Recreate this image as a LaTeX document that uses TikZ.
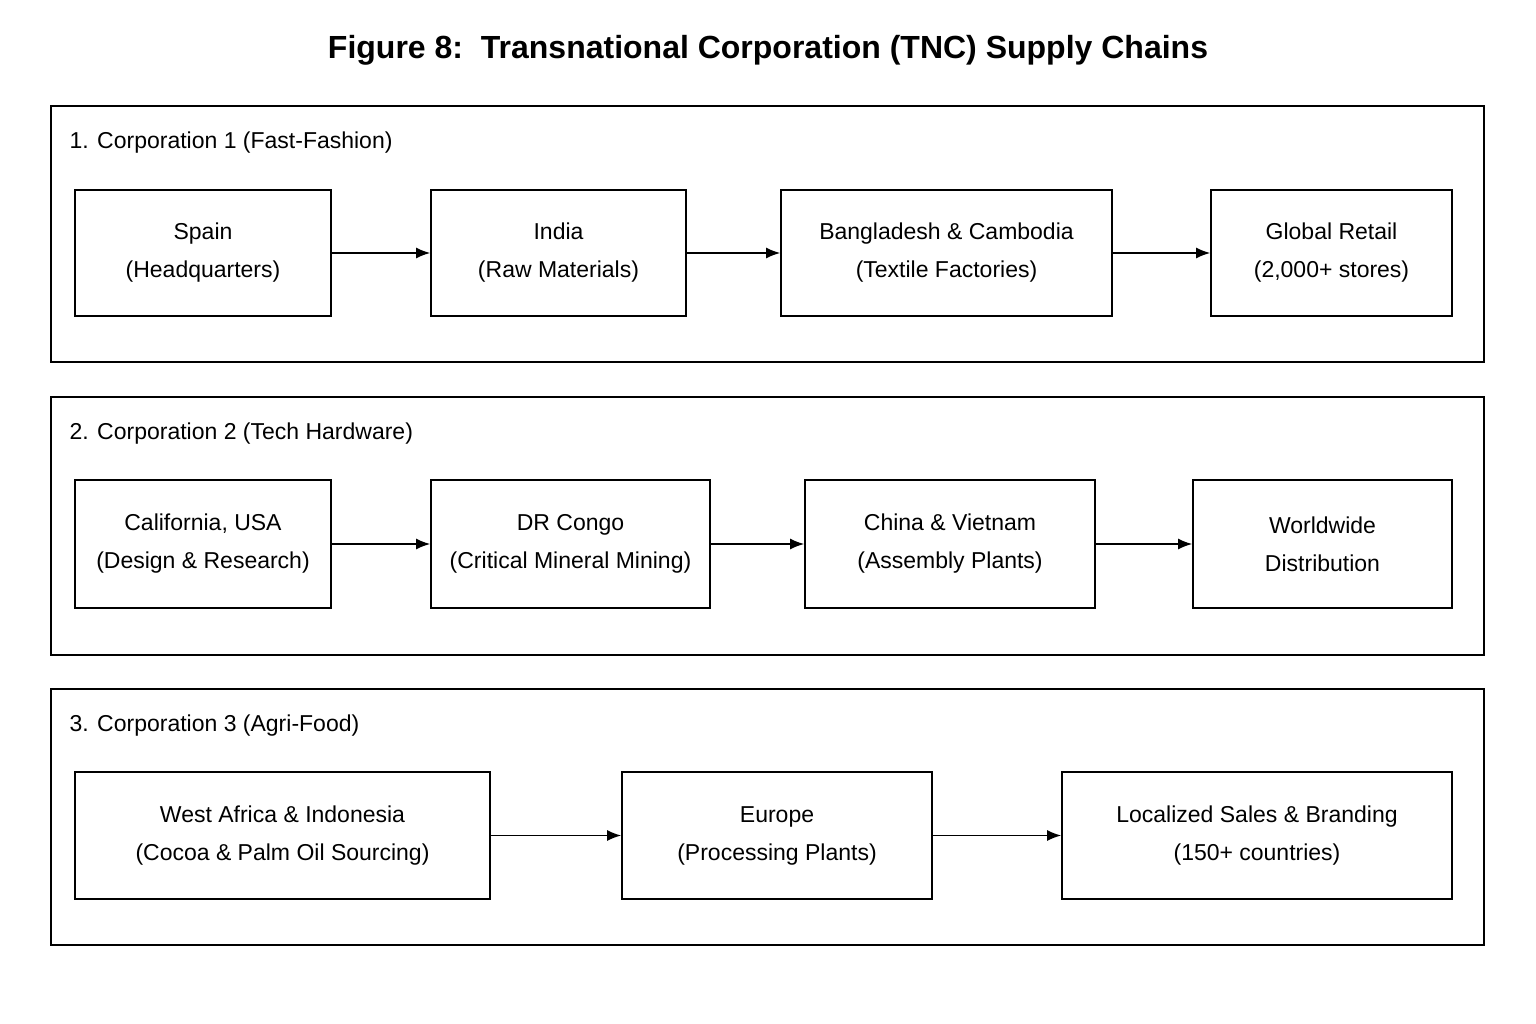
\documentclass[tikz,border=0pt]{standalone}
\usepackage{fontspec}
\setmainfont{Liberation Sans}
\usetikzlibrary{arrows.meta}
\begin{document}
\begin{tikzpicture}[x=1pt,y=-1pt,
 panel/.style={draw,line width=1.6pt},
 box/.style={draw,line width=1.6pt,align=center,font=\fontsize{23}{38}\selectfont},
 lab/.style={anchor=west,font=\fontsize{23}{28}\selectfont},
 arr/.style={-{Latex[length=14pt,width=11pt]},line width=1.6pt}]
\useasboundingbox (0,0) rectangle (1536,1024);
\node[font=\fontsize{32}{38}\selectfont\bfseries] (title) at (768,50) {Figure 8:\ \ Transnational Corporation (TNC) Supply Chains};
\newcommand\bx[6]{\node[box,minimum width=#3-#2,minimum height=#5-#4,inner sep=0pt] (#1) at ({(#2+#3)/2},{(#4+#5)/2}) {#6};}
% panels
\draw[panel] (51,106) rectangle (1484,362);
\draw[panel] (51,397) rectangle (1484,655);
\draw[panel] (51,689) rectangle (1484,945);
\node[lab] (l1) at (66,143) {1. Corporation 1 (Fast-Fashion)};
\node[lab] (l2) at (66,434) {2. Corporation 2 (Tech Hardware)};
\node[lab] (l3) at (66,726) {3. Corporation 3 (Agri-Food)};
% row 1
\bx{a1}{75}{331}{190}{316}{Spain\\(Headquarters)}
\bx{a2}{431}{686}{190}{316}{India\\(Raw Materials)}
\bx{a3}{781}{1112}{190}{316}{Bangladesh \& Cambodia\\(Textile Factories)}
\bx{a4}{1211}{1452}{190}{316}{Global Retail\\(2,000+ stores)}
% row 2
\bx{b1}{75}{331}{480}{608}{California, USA\\(Design \& Research)}
\bx{b2}{431}{710}{480}{608}{DR Congo\\(Critical Mineral Mining)}
\bx{b3}{805}{1095}{480}{608}{China \& Vietnam\\(Assembly Plants)}
\bx{b4}{1193}{1452}{480}{608}{Worldwide\\Distribution}
% row 3
\bx{c1}{75}{490}{772}{899}{West Africa \& Indonesia\\(Cocoa \& Palm Oil Sourcing)}
\bx{c2}{622}{932}{772}{899}{Europe\\(Processing Plants)}
\bx{c3}{1062}{1452}{772}{899}{Localized Sales \& Branding\\(150+ countries)}
\draw[arr] (a1) -- (a2); \draw[arr] (a2) -- (a3); \draw[arr] (a3) -- (a4);
\draw[arr] (b1) -- (b2); \draw[arr] (b2) -- (b3); \draw[arr] (b3) -- (b4);
\draw[arr] (c1) -- (c2); \draw[arr] (c2) -- (c3);
\end{tikzpicture}
\end{document}
